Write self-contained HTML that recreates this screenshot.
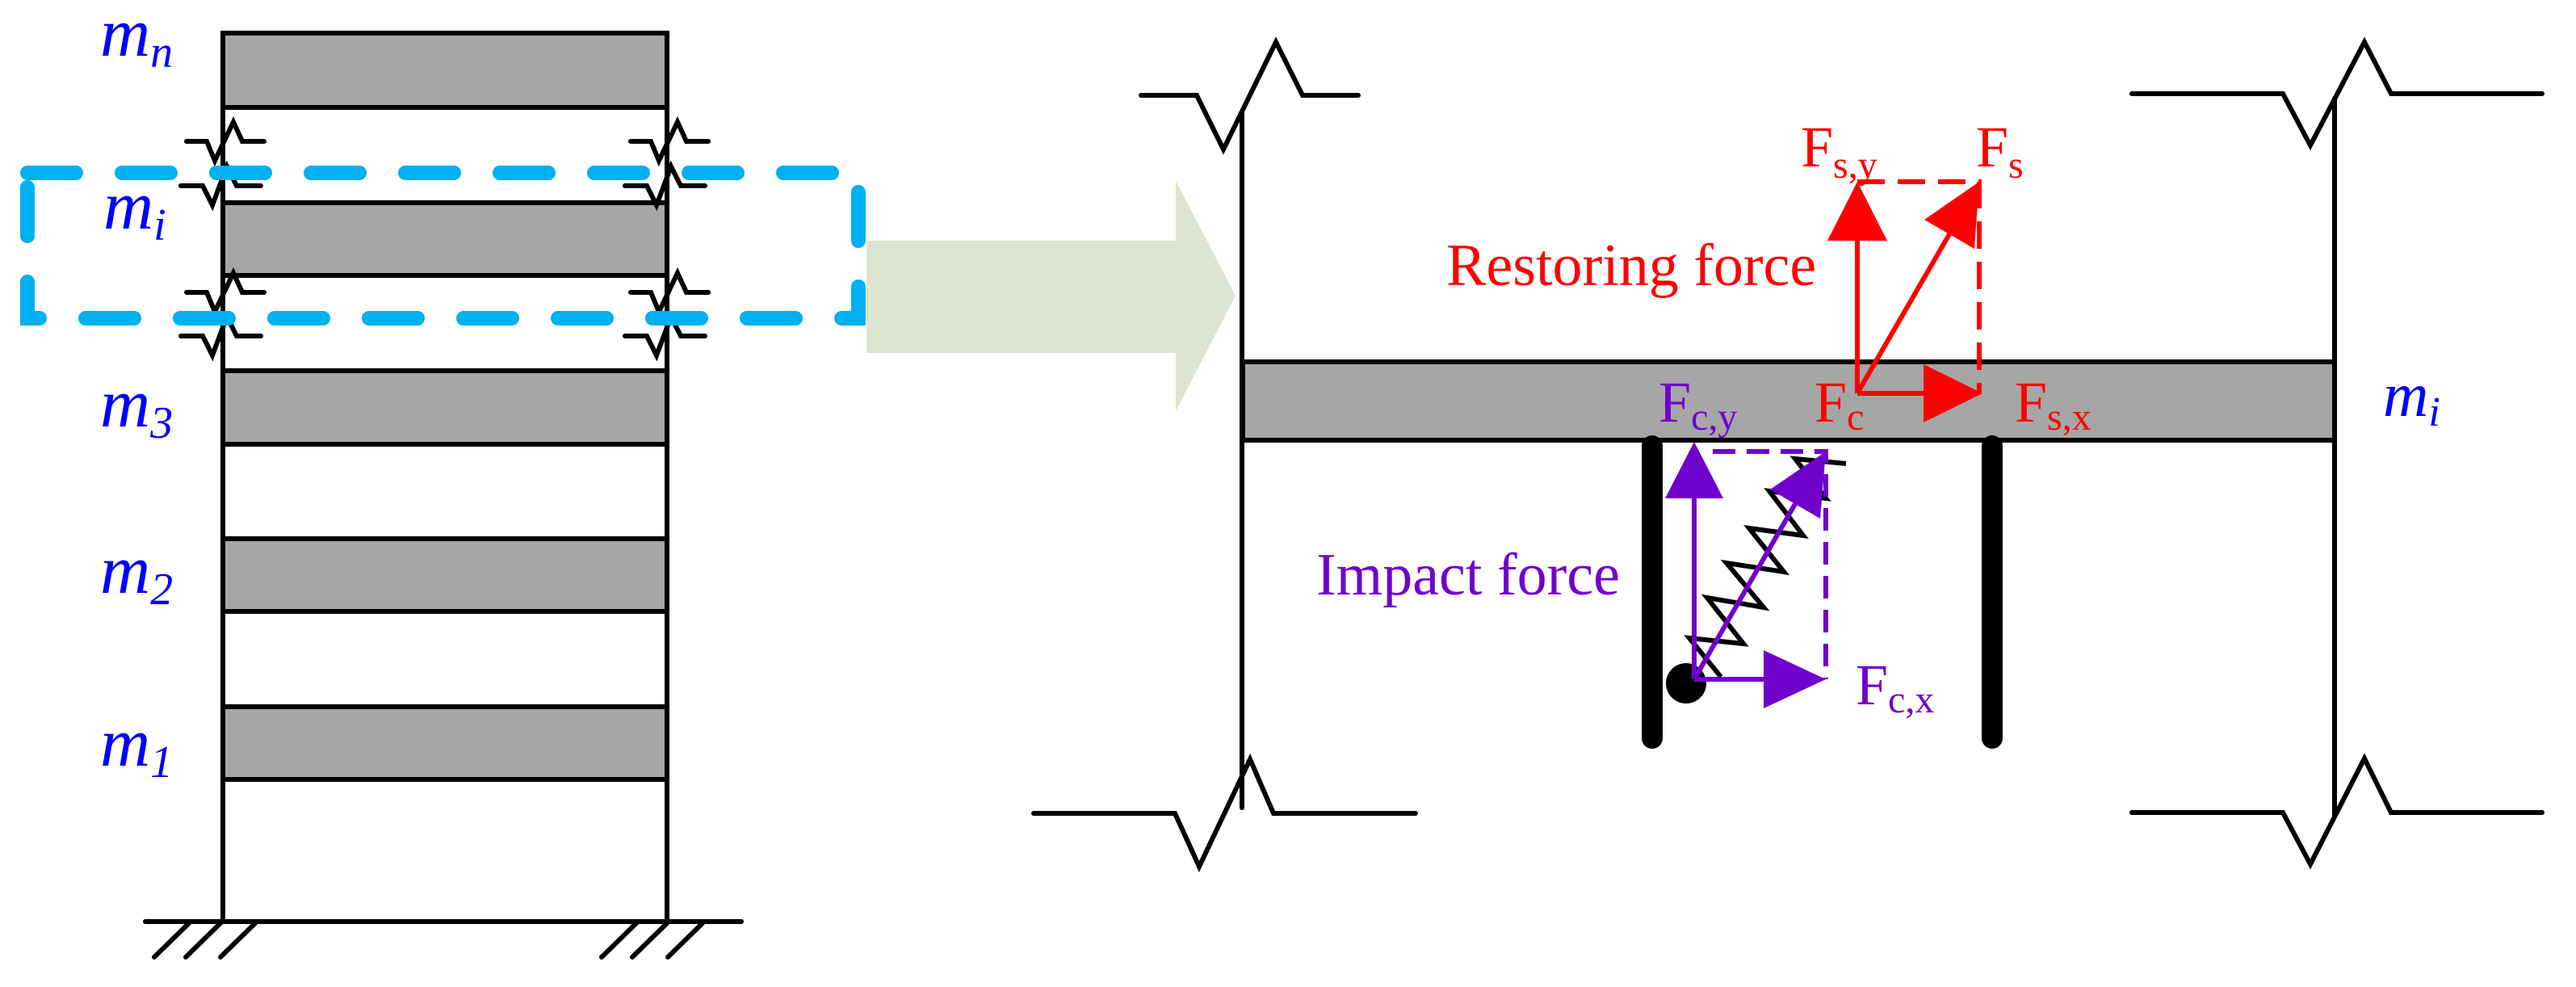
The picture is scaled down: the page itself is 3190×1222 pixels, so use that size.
<!DOCTYPE html>
<html><head><meta charset="utf-8"><style>html,body{margin:0;padding:0;background:#fff}svg{display:block}text{font-family:"Liberation Serif",serif}</style></head>
<body>
<svg width="3190" height="1222" viewBox="0 0 3190 1222" xmlns="http://www.w3.org/2000/svg">
<rect width="3190" height="1222" fill="#fff"/>
<g stroke="#000" stroke-width="6" fill="none" stroke-linecap="round" stroke-linejoin="miter">
  <line x1="276" y1="41" x2="276" y2="1141"/>
  <line x1="826" y1="41" x2="826" y2="1141"/>
  <rect x="276" y="41" width="550" height="92" fill="#A6A6A6"/>
  <rect x="276" y="251" width="550" height="90" fill="#A6A6A6"/>
  <rect x="276" y="459" width="550" height="91" fill="#A6A6A6"/>
  <rect x="276" y="667" width="550" height="90" fill="#A6A6A6"/>
  <rect x="276" y="875" width="550" height="90" fill="#A6A6A6"/>
  <line x1="180" y1="1141" x2="918" y2="1141"/>
  <path d="M234 1143 L191 1185 M273 1143 L230 1185 M316 1143 L273 1185 M788 1143 L745 1185 M826 1143 L783 1185 M870 1143 L827 1185"/>
</g>
<g fill="none" stroke="#000" stroke-width="6" stroke-linecap="round" stroke-linejoin="miter">
  <path d="M231 175 L256 175 L266 199 L289 151 L300 175 L327 175"/>
  <path d="M224 230 L251 230 L263 254 L281 206 L293 230 L323 230"/>
  <path d="M231 362 L256 362 L266 386 L289 338 L300 362 L327 362"/>
  <path d="M224 416 L251 416 L263 440 L281 392 L293 416 L323 416"/>
  <path d="M781 175 L806 175 L816 199 L839 151 L850 175 L877 175"/>
  <path d="M774 230 L801 230 L813 254 L831 206 L843 230 L873 230"/>
  <path d="M781 362 L806 362 L816 386 L839 338 L850 362 L877 362"/>
  <path d="M774 416 L801 416 L813 440 L831 392 L843 416 L873 416"/>
</g>
<rect x="34" y="214" width="1029" height="180" fill="none" stroke="#00B0F0" stroke-width="18" stroke-linecap="round" stroke-dasharray="60 57"/>
<g fill="#0000FF" font-style="italic" font-size="86">
  <text x="124" y="69">m<tspan font-size="56" dy="14">n</tspan></text>
  <text x="128" y="283">m<tspan font-size="56" dy="14">i</tspan></text>
  <text x="124" y="528">m<tspan font-size="56" dy="14">3</tspan></text>
  <text x="124" y="734">m<tspan font-size="56" dy="14">2</tspan></text>
  <text x="124" y="948">m<tspan font-size="56" dy="14">1</tspan></text>
</g>
<polygon points="1073,298 1456,298 1456,224 1530,366 1456,509 1456,437 1073,437" fill="#DDE4CF"/>
<rect x="1539" y="448" width="1352" height="97" fill="#A6A6A6" stroke="#000" stroke-width="6"/>
<g fill="none" stroke="#000" stroke-width="6" stroke-linecap="round" stroke-linejoin="miter">
  <line x1="1538" y1="140" x2="1538" y2="1000"/>
  <line x1="2891" y1="122" x2="2891" y2="1009"/>
  <path d="M1413 118 L1482 118 L1515 185 L1580 52 L1613 118 L1682 118"/>
  <path d="M1280 1007 L1455 1007 L1485 1073 L1548 940 L1577 1007 L1753 1007"/>
  <path d="M2640 116 L2827 116 L2861 180 L2928 52 L2961 116 L3148 116"/>
  <path d="M2640 1006 L2827 1006 L2861 1070 L2928 939 L2961 1006 L3148 1006"/>
</g>
<g stroke="#000" stroke-width="26" stroke-linecap="round">
  <line x1="2046" y1="552" x2="2046" y2="914"/>
  <line x1="2467" y1="552" x2="2467" y2="914"/>
</g>
<polyline points="2286,574 2223,568 2261,617 2191,608 2233,663 2166,654 2209,708 2138,697 2184,752 2114,740 2159,797 2092,790 2131,838" fill="none" stroke="#000" stroke-width="6" stroke-linejoin="miter"/>
<circle cx="2088" cy="846" r="25" fill="#000"/>
<g stroke="#FF0000" stroke-width="6" fill="none">
  <line x1="2300" y1="487" x2="2300" y2="298"/>
  <line x1="2300" y1="487" x2="2385" y2="487"/>
  <line x1="2300" y1="487" x2="2414" y2="290"/>
  <path d="M2300 225 L2451 225 L2451 487" stroke-dasharray="34 16"/>
</g>
<g fill="#FF0000">
  <polygon points="2300,225 2263,298 2337,298"/>
  <polygon points="2455,487 2382,451 2382,523"/>
  <polygon points="2451,225 2445,308 2383,272"/>
</g>
<g stroke="#7000CC" stroke-width="6" fill="none">
  <line x1="2098" y1="841" x2="2098" y2="617"/>
  <line x1="2098" y1="841" x2="2186" y2="841"/>
  <line x1="2098" y1="841" x2="2223" y2="624"/>
  <path d="M2121 559 L2261 559 L2261 841" stroke-dasharray="28 14"/>
</g>
<g fill="#7000CC">
  <polygon points="2098,547 2062,617 2134,617"/>
  <polygon points="2261,841 2184,805 2184,877"/>
  <polygon points="2261,559 2254,642 2192,606"/>
</g>
<g fill="#FF0000" font-size="72">
  <text x="2230" y="206">F<tspan font-size="48" dy="14">s,y</tspan></text>
  <text x="2447" y="206">F<tspan font-size="48" dy="14">s</tspan></text>
  <text x="1791" y="353" font-size="74">Restoring force</text>
  <text x="2247" y="522">F<tspan font-size="48" dy="10">c</tspan></text>
  <text x="2495" y="522">F<tspan font-size="48" dy="10">s,x</tspan></text>
</g>
<g fill="#7000CC" font-size="72">
  <text x="2054" y="522">F<tspan font-size="48" dy="10">c,y</tspan></text>
  <text x="1630" y="736" font-size="74">Impact force</text>
  <text x="2298" y="872">F<tspan font-size="48" dy="10">c,x</tspan></text>
</g>
<text x="2951" y="515" fill="#0000FF" font-style="italic" font-size="78">m<tspan font-size="52" dy="12">i</tspan></text>
</svg>
</body></html>
